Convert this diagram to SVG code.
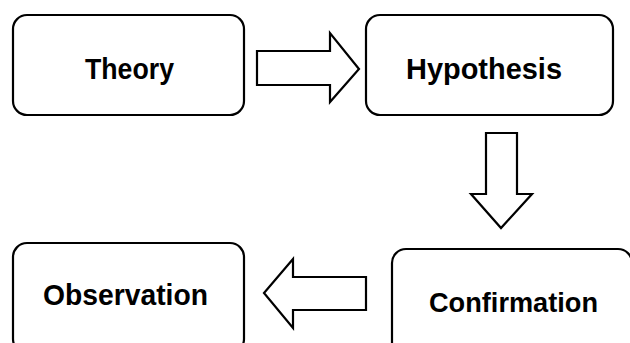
<svg xmlns="http://www.w3.org/2000/svg" width="630" height="343" viewBox="0 0 630 343">
  <style>
    .box { fill: #ffffff; stroke: #000000; stroke-width: 2.2; }
    .arrow { fill: #ffffff; stroke: #000000; stroke-width: 2.2; stroke-linejoin: miter; }
    .label { font-family: "Liberation Sans", Arial, sans-serif; font-weight: bold; fill: #000000; text-anchor: middle; }
  </style>
  <rect width="630" height="343" fill="#ffffff"/>

  <g id="theory">
    <rect class="box" x="13" y="15" width="231" height="100" rx="14" ry="14"/>
    <text class="label" x="129.5" y="79" font-size="30" textLength="89" lengthAdjust="spacingAndGlyphs">Theory</text>
  </g>

  <g id="hypothesis">
    <rect class="box" x="366" y="15" width="247" height="100" rx="14" ry="14"/>
    <text class="label" x="484" y="79" font-size="30" textLength="156" lengthAdjust="spacingAndGlyphs">Hypothesis</text>
  </g>

  <g id="confirmation">
    <rect class="box" x="392" y="249" width="240" height="110" rx="14" ry="14"/>
    <text class="label" x="513.5" y="312" font-size="28" textLength="169" lengthAdjust="spacingAndGlyphs">Confirmation</text>
  </g>

  <g id="observation">
    <rect class="box" x="13" y="243" width="231" height="110" rx="14" ry="14"/>
    <text class="label" x="125.5" y="305" font-size="30" textLength="165" lengthAdjust="spacingAndGlyphs">Observation</text>
  </g>

  <g id="connectors">
    <!-- Theory to Hypothesis -->
    <polygon class="arrow" points="257,51 330,51 330,33 359,69 330,102 330,85 257,85"/>
    <!-- Hypothesis to Confirmation -->
    <polygon class="arrow" points="486,133 517,133 517,194 532,194 501,228 471,194 486,194"/>
    <!-- Confirmation to Observation -->
    <polygon class="arrow" points="366,277 293,277 293,259 264,293 293,328 293,310 366,310"/>
  </g>
</svg>
